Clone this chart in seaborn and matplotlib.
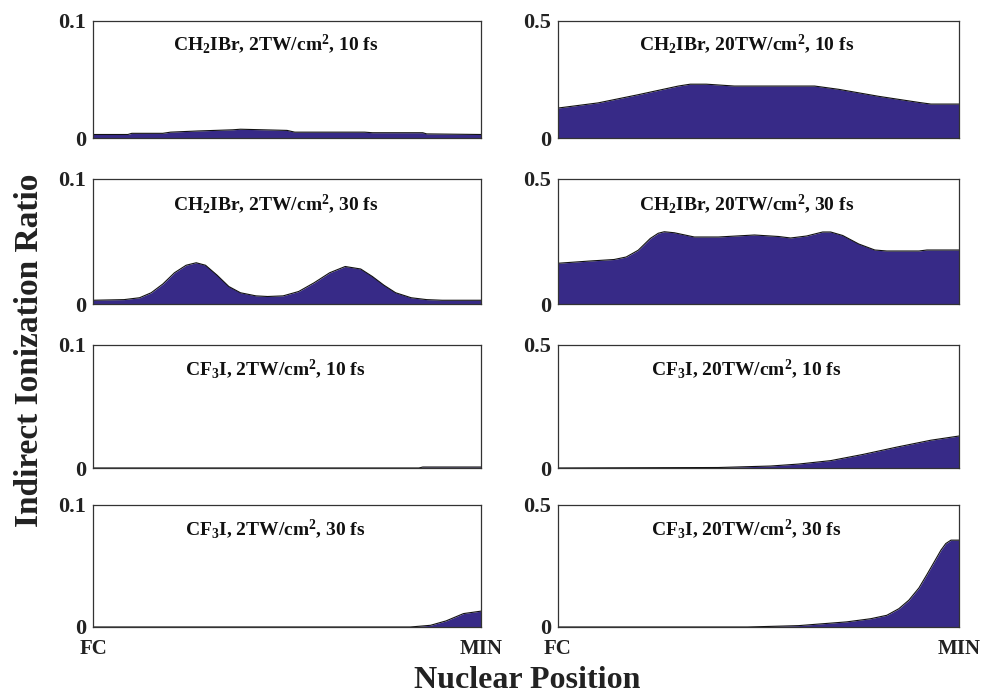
import numpy as np
import pandas as pd
import matplotlib
matplotlib.use("Agg")
import matplotlib.pyplot as plt
import seaborn as sns

sns.set_theme(style="white")
plt.rcParams["font.family"] = ["Liberation Serif", "DejaVu Serif"]
plt.rcParams["font.weight"] = "bold"
plt.rcParams["mathtext.fontset"] = "custom"
plt.rcParams["mathtext.rm"] = "Liberation Serif:bold"
plt.rcParams["mathtext.bf"] = "Liberation Serif:bold"
plt.rcParams["mathtext.it"] = "Liberation Serif:bold"

FILL = "#372a87"

# Nuclear position normalised from FC (0) to MIN (1)
x_ch2ibr_2tw_10 = [0, 0.09, 0.10, 0.18, 0.20, 0.27, 0.36, 0.38, 0.50, 0.52, 0.70, 0.72, 0.85, 0.86, 1.0]
y_ch2ibr_2tw_10 = [0.003, 0.003, 0.004, 0.004, 0.005, 0.006, 0.007, 0.0075, 0.0065, 0.005, 0.005, 0.0045, 0.0045, 0.0035, 0.003]

x_ch2ibr_20tw_10 = [0, 0.10, 0.20, 0.30, 0.33, 0.37, 0.44, 0.64, 0.70, 0.80, 0.90, 0.93, 1.0]
y_ch2ibr_20tw_10 = [0.128, 0.150, 0.185, 0.222, 0.230, 0.230, 0.222, 0.222, 0.208, 0.178, 0.152, 0.145, 0.145]

x_ch2ibr_2tw_30 = [0, 0.08, 0.12, 0.15, 0.18, 0.21, 0.24, 0.266, 0.29, 0.32, 0.35, 0.38, 0.42, 0.45,
                   0.49, 0.53, 0.57, 0.61, 0.65, 0.69, 0.72, 0.75, 0.78, 0.82, 0.86, 0.90, 1.0]
y_ch2ibr_2tw_30 = [0.003, 0.0035, 0.005, 0.009, 0.016, 0.025, 0.031, 0.033, 0.031, 0.023, 0.014, 0.009,
                   0.0065, 0.006, 0.0065, 0.010, 0.017, 0.025, 0.030, 0.028, 0.022, 0.015, 0.009,
                   0.005, 0.0035, 0.003, 0.003]

x_ch2ibr_20tw_30 = [0, 0.08, 0.14, 0.17, 0.20, 0.23, 0.25, 0.265, 0.29, 0.34, 0.40, 0.49, 0.55, 0.58,
                    0.62, 0.66, 0.68, 0.71, 0.75, 0.79, 0.82, 0.90, 0.92, 1.0]
y_ch2ibr_20tw_30 = [0.163, 0.172, 0.178, 0.188, 0.215, 0.262, 0.283, 0.289, 0.285, 0.268, 0.268, 0.276,
                    0.270, 0.264, 0.272, 0.288, 0.288, 0.274, 0.240, 0.216, 0.212, 0.212, 0.216, 0.216]

x_cf3i_2tw_10 = [0, 0.84, 0.85, 1.0]
y_cf3i_2tw_10 = [0.0, 0.0, 0.0008, 0.0008]

x_cf3i_20tw_10 = [0, 0.40, 0.53, 0.60, 0.68, 0.76, 0.845, 0.93, 1.0]
y_cf3i_20tw_10 = [0.0, 0.002, 0.008, 0.016, 0.030, 0.055, 0.085, 0.113, 0.130]

x_cf3i_2tw_30 = [0, 0.818, 0.87, 0.91, 0.955, 1.0]
y_cf3i_2tw_30 = [0.0, 0.0, 0.0014, 0.005, 0.011, 0.013]

x_cf3i_20tw_30 = [0, 0.473, 0.60, 0.72, 0.78, 0.82, 0.85, 0.875, 0.90, 0.92, 0.94, 0.955, 0.967, 0.98, 1.0]
y_cf3i_20tw_30 = [0.0, 0.0, 0.0056, 0.021, 0.034, 0.048, 0.075, 0.110, 0.160, 0.215, 0.272, 0.315, 0.342, 0.356, 0.356]

titles = [
    r"CH$_2$IBr, 2TW/cm$^2$, 10 fs", r"CH$_2$IBr, 20TW/cm$^2$, 10 fs",
    r"CH$_2$IBr, 2TW/cm$^2$, 30 fs", r"CH$_2$IBr, 20TW/cm$^2$, 30 fs",
    r"CF$_3$I, 2TW/cm$^2$, 10 fs", r"CF$_3$I, 20TW/cm$^2$, 10 fs",
    r"CF$_3$I, 2TW/cm$^2$, 30 fs", r"CF$_3$I, 20TW/cm$^2$, 30 fs",
]
series = [
    (x_ch2ibr_2tw_10, y_ch2ibr_2tw_10), (x_ch2ibr_20tw_10, y_ch2ibr_20tw_10),
    (x_ch2ibr_2tw_30, y_ch2ibr_2tw_30), (x_ch2ibr_20tw_30, y_ch2ibr_20tw_30),
    (x_cf3i_2tw_10, y_cf3i_2tw_10), (x_cf3i_20tw_10, y_cf3i_20tw_10),
    (x_cf3i_2tw_30, y_cf3i_2tw_30), (x_cf3i_20tw_30, y_cf3i_20tw_30),
]
ymax_left, ymax_right = 0.1, 0.5
ytick_left = ["0", "0.1"]
ytick_right = ["0", "0.5"]
xtick_labels = ["FC", "MIN"]

W, H = 984, 694
fig = plt.figure(figsize=(W / 100, H / 100), dpi=100)

col_x = [(93, 481), (558, 959)]
row_y = [(21, 138), (179, 304), (345, 468), (505, 627)]

for i, (title, (xs, ys)) in enumerate(zip(titles, series)):
    r, c = divmod(i, 2)
    x0, x1 = col_x[c]
    y0, y1 = row_y[r]
    ax = fig.add_axes([x0 / W, 1 - y1 / H, (x1 - x0) / W, (y1 - y0) / H])
    df = pd.DataFrame({"pos": xs, "ratio": ys})
    ax.fill_between(df["pos"], 0, df["ratio"], color=FILL, linewidth=0)
    sns.lineplot(data=df, x="pos", y="ratio", ax=ax, color="#111111", linewidth=0.8)
    ymax = ymax_left if c == 0 else ymax_right
    ax.set_xlim(0, 1)
    ax.set_ylim(0, ymax)
    ax.set_yticks([0, ymax])
    ax.set_yticklabels(ytick_left if c == 0 else ytick_right, fontsize=16, fontweight="bold",
                       color="#222222")
    if r == 3:
        ax.set_xticks([0, 1])
        ax.set_xticklabels(xtick_labels, fontsize=15, fontweight="bold", color="#222222")
        ax.tick_params(axis="x", length=0, pad=9)
    else:
        ax.set_xticks([])
    ax.tick_params(axis="y", length=0, pad=5)
    ax.set_xlabel("")
    ax.set_ylabel("")
    for s in ax.spines.values():
        s.set_visible(True)
        s.set_color("#333333")
        s.set_linewidth(0.9)
    ax.text(0.47, 0.8, title, transform=ax.transAxes, ha="center", va="center",
            fontsize=14, fontweight="bold", color="#111111")

fig.text(30 / W, 1 - 350 / H, "Indirect Ionization Ratio", rotation=90, ha="center", va="center",
         fontsize=24, fontweight="bold", color="#222222")
fig.text(527 / W, 1 - 681 / H, "Nuclear Position", ha="center", va="center",
         fontsize=23, fontweight="bold", color="#222222")

fig.savefig("out.png", dpi=100)
